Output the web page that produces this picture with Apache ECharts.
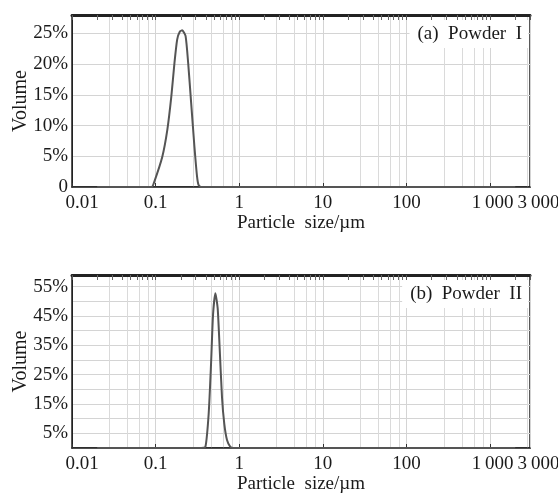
<!DOCTYPE html>
<html>
<head>
<meta charset="utf-8">
<script src="https://cdn.jsdelivr.net/npm/echarts@6/dist/echarts.min.js"></script>
<style>
html,body{margin:0;padding:0;background:#fff;}
#chart{width:558px;height:497px;}
</style>
</head>
<body>
<div id="chart"></div>
<script>
// ---- data ----
const panelTitles = ['(a)  Powder  I', '(b)  Powder  II'];
const xAxisName = 'Particle  size/\u00b5m';
const yAxisName = 'Volume';
const xTickLabels = {0.01: '0.01', 0.1: '0.1', 1: '1', 10: '10', 100: '100', 1000: '1\u2009000'};
const xEndLabel = '3\u2009000';

const sizesI = [0.02, 0.05, 0.09, 0.095, 0.12, 0.138, 0.154, 0.168, 0.181, 0.195, 0.208, 0.228, 0.245, 0.266, 0.291, 0.313, 0.327, 0.35, 1, 10, 100, 1000, 2000];
const volumeI = [0, 0, 0, 0.6, 4.9, 9.3, 14.7, 20.2, 24.0, 25.3, 25.5, 24.6, 20.2, 13.7, 6.6, 1.7, 0.3, 0, 0, 0, 0, 0, 0];

const sizesII = [0.02, 0.1, 0.35, 0.394, 0.431, 0.46, 0.486, 0.518, 0.552, 0.583, 0.622, 0.662, 0.714, 0.782, 0.855, 1, 10, 100, 1000, 2000];
const volumeII = [0, 0, 0, 0.4, 11.7, 28.6, 45.5, 52.8, 47.7, 34.2, 17.3, 8.3, 2.7, 0.4, 0, 0, 0, 0, 0, 0];

const yTicksI = [0, 5, 10, 15, 20, 25];
const yTicksII = [5, 15, 25, 35, 45, 55];

// ---- chart ----
const FONT = 'Liberation Serif';
const TXT = '#1a1a1a';
const FS = 19;
const X_MIN = 0.01, X_MAX = 3000;
const chart = echarts.init(document.getElementById('chart'), null, {renderer: 'canvas'});

const grids = [
  {left: 72, right: 28, top: 15, bottom: 310},
  {left: 72, right: 28, top: 275, bottom: 49}
];

function near(a, b) { return Math.abs(a - b) / b < 1e-6; }

function bottomX(gi) {
  return {
    type: 'log', logBase: 10, gridIndex: gi, position: 'bottom',
    min: X_MIN, max: X_MAX,
    name: xAxisName, nameLocation: 'middle', nameGap: 26,
    nameTextStyle: {fontFamily: FONT, fontSize: FS, color: TXT},
    axisLine: {show: true, lineStyle: {color: '#222', width: 1.5}},
    axisTick: {show: true, inside: true, length: 4, lineStyle: {color: '#333'}},
    minorTick: {show: false},
    axisLabel: {
      fontFamily: FONT, fontSize: FS, color: TXT, margin: 7,
      showMinLabel: true, showMaxLabel: false, hideOverlap: false,
      formatter: v => {
        for (const k in xTickLabels) {
          if (near(v, +k)) {
            if (+k === 1000) return '{k|' + xTickLabels[k] + '}';
            if (+k === 0.01) return '{m|' + xTickLabels[k] + '}';
            return xTickLabels[k];
          }
        }
        return '';
      },
      rich: {
        k: {fontFamily: FONT, fontSize: FS, color: TXT, padding: [0, 0, 0, 5]},
        m: {fontFamily: FONT, fontSize: FS, color: TXT, padding: [0, 0, 0, 20]}
      }
    },
    splitLine: {show: true, lineStyle: {color: '#d4d4d4', width: 1}},
    minorSplitLine: {show: true, lineStyle: {color: '#dadada', width: 1}},
    splitNumber: 9
  };
}
// second bottom axis that only carries the end label (3000)
function endX(gi) {
  return {
    type: 'log', logBase: 10, gridIndex: gi, position: 'bottom',
    min: X_MIN, max: X_MAX,
    axisLine: {show: false}, axisTick: {show: false}, splitLine: {show: false},
    axisLabel: {
      fontFamily: FONT, fontSize: FS, color: TXT, margin: 7,
      showMinLabel: false, showMaxLabel: true, hideOverlap: false,
      formatter: v => near(v, X_MAX) ? '{r|' + xEndLabel + '}' : '',
      rich: {r: {fontFamily: FONT, fontSize: FS, color: TXT, padding: [0, 0, 0, 17]}}
    }
  };
}
function topX(gi) {
  return {
    type: 'log', logBase: 10, gridIndex: gi, position: 'top',
    min: X_MIN, max: X_MAX,
    axisLine: {show: true, lineStyle: {color: '#222', width: 3}},
    axisTick: {show: true, inside: true, length: 5, lineStyle: {color: '#555'}},
    minorTick: {show: true, splitNumber: 9, length: 5, lineStyle: {color: '#666'}},
    axisLabel: {show: false},
    splitLine: {show: false}
  };
}
function yAx(gi, max, ticks, plain0) {
  return {
    type: 'value', gridIndex: gi, min: 0, max: max, interval: 5,
    name: yAxisName, nameLocation: 'middle', nameGap: 41, nameMoveOverlap: false,
    nameTextStyle: {fontFamily: FONT, fontSize: FS + 1, color: TXT},
    axisLine: {show: true, lineStyle: {color: '#222', width: 1}},
    axisTick: {show: false},
    axisLabel: {
      fontFamily: FONT, fontSize: FS, color: TXT, margin: 4,
      showMaxLabel: true,
      formatter: v => {
        if (ticks.indexOf(v) < 0) return '';
        return (v === 0 && plain0) ? '0' : v + '%';
      }
    },
    splitLine: {show: true, lineStyle: {color: '#d4d4d4', width: 1}}
  };
}

const option = {
  backgroundColor: '#fff',
  animation: false,
  title: [
    {text: panelTitles[0], right: 30, top: 20, backgroundColor: '#fff', padding: [5, 6, 4, 8],
     textStyle: {fontFamily: FONT, fontSize: 19, fontWeight: 'normal', color: TXT}},
    {text: panelTitles[1], right: 30, top: 280, backgroundColor: '#fff', padding: [5, 6, 4, 8],
     textStyle: {fontFamily: FONT, fontSize: 19, fontWeight: 'normal', color: TXT}}
  ],
  grid: grids.map(g => Object.assign({show: true, borderColor: '#222', borderWidth: 1.5,
    backgroundColor: 'transparent', containLabel: false, outerBoundsMode: 'none'}, g)),
  xAxis: [bottomX(0), topX(0), endX(0), bottomX(1), topX(1), endX(1)],
  yAxis: [yAx(0, 28, yTicksI, true), yAx(1, 59, yTicksII, false)],
  series: [
    {type: 'line', xAxisIndex: 0, yAxisIndex: 0, data: sizesI.map((s, i) => [s, volumeI[i]]),
     showSymbol: false, smooth: 0.2, lineStyle: {color: '#555', width: 2}, z: 5},
    {type: 'line', xAxisIndex: 3, yAxisIndex: 1, data: sizesII.map((s, i) => [s, volumeII[i]]),
     showSymbol: false, smooth: 0.2, lineStyle: {color: '#555', width: 2}, z: 5}
  ]
};
chart.setOption(option);
</script>
</body>
</html>
